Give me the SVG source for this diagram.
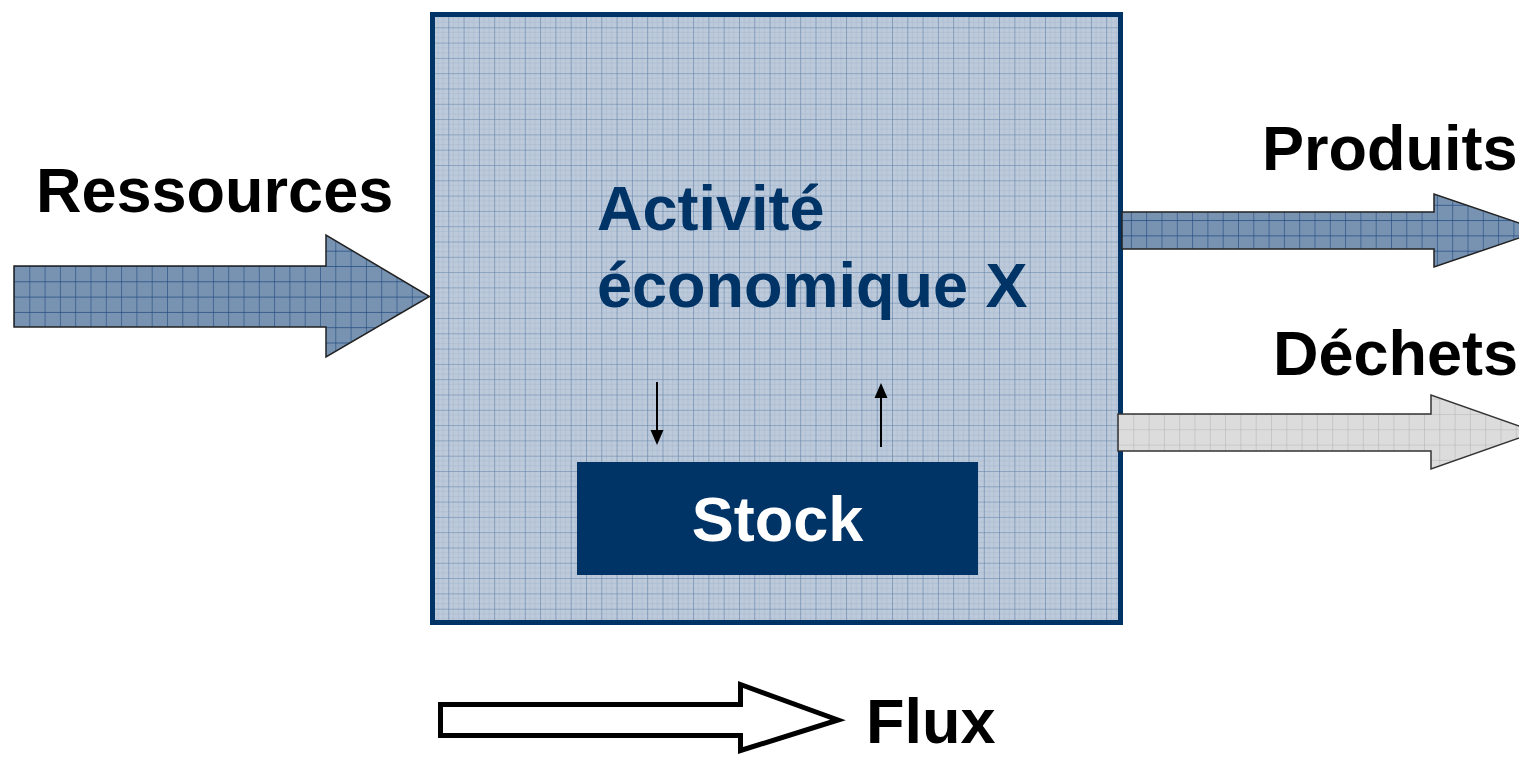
<svg xmlns="http://www.w3.org/2000/svg" width="1519" height="757" viewBox="0 0 1519 757">
<style>
.lbl{font-family:"Liberation Sans",Arial,sans-serif;font-weight:bold;font-size:63px;fill:#000}
.blue{fill:#003366}
.white{fill:#fff}
.arrowB{fill:url(#gridBlue);stroke:#222;stroke-width:1.5}
.arrowG{fill:url(#gridGrey);stroke:#333;stroke-width:1.5}
.thin{stroke:#000;stroke-width:2;fill:none}
</style>
<defs>
<pattern id="gridBox" patternUnits="userSpaceOnUse" x="433" y="12" width="15.3" height="15.3">
<rect width="15.3" height="15.3" fill="#bccadb"/>
<path d="M0 5.1H15.3M0 10.2H15.3M5.1 0V15.3M10.2 0V15.3" stroke="#a8b9cd" stroke-width="0.6"/>
<path d="M0 0H15.3M0 0V15.3" stroke="#5b7ca3" stroke-width="1.1"/>
</pattern>
<pattern id="gridBlue" patternUnits="userSpaceOnUse" x="14" y="266" width="15.3" height="15.3">
<rect width="15.3" height="15.3" fill="#7892b2"/>
<path d="M0 0H15.3M0 0V15.3" stroke="#1f4a7e" stroke-width="1.2"/>
</pattern>
<pattern id="gridGrey" patternUnits="userSpaceOnUse" x="1118" y="414" width="15.3" height="15.3">
<rect width="15.3" height="15.3" fill="#dcdcdc"/>
<path d="M0 0H15.3M0 0V15.3" stroke="#b5b5b5" stroke-width="1.1"/>
</pattern>
<marker id="ah" markerWidth="8" markerHeight="8" refX="4" refY="4" orient="auto" markerUnits="userSpaceOnUse" viewBox="0 0 8 8">
<path d="M0 0L8 4L0 8Z" fill="#000"/>
</marker>
<marker id="ah2" markerWidth="16" markerHeight="16" refX="14" refY="7" orient="auto" markerUnits="userSpaceOnUse" viewBox="0 0 16 14">
<path d="M0 0L16 7L0 14Z" fill="#000"/>
</marker>
</defs>

<g id="activite">
<rect x="432.5" y="14.5" width="688" height="608" fill="url(#gridBox)" stroke="#003366" stroke-width="5"/>
<text class="lbl blue" x="597" y="230">Activité</text>
<text class="lbl blue" x="597" y="307">économique X</text>
</g>

<g id="stock">
<rect x="577" y="462" width="401" height="113" fill="#003366"/>
<text class="lbl white" x="777.5" y="541" text-anchor="middle">Stock</text>
</g>

<g id="ressources">
<path class="arrowB" d="M14 266H326V235L429.5 296.5L326 357V327H14Z"/>
<text class="lbl" x="36" y="212">Ressources</text>
</g>

<g id="produits">
<path class="arrowB" d="M1122 212H1434V194L1541 230.5L1434 267V249H1122Z" style="fill:url(#gridBlue)"/>
<text class="lbl" x="1262" y="170">Produits</text>
</g>

<g id="dechets">
<path class="arrowG" d="M1118 414H1431V395L1536 432L1431 469V451H1118Z"/>
<text class="lbl" x="1273" y="375">Déchets</text>
</g>

<g id="legende">
<path d="M440.5 704.5H740.5V684.5L838 720L740.5 750.5V735.5H440.5Z" fill="#fff" stroke="#000" stroke-width="5" stroke-linejoin="miter"/>
<text class="lbl" x="866" y="743">Flux</text>
</g>

<g id="connectors">
<line class="thin" x1="657" y1="382" x2="657" y2="432"/>
<path d="M650.5 430L657 445L663.5 430Z" fill="#000"/>
<line class="thin" x1="881" y1="447" x2="881" y2="397"/>
<path d="M874.5 398L881 383L887.5 398Z" fill="#000"/>
</g>
</svg>
